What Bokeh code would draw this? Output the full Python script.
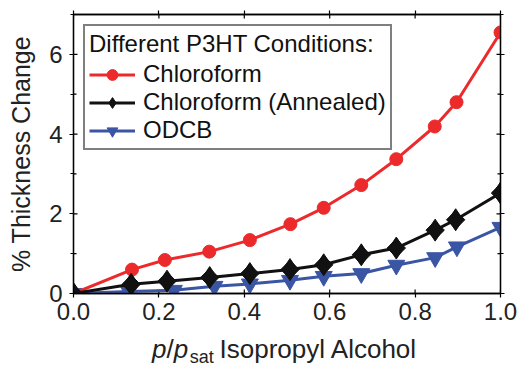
import math
from bokeh.plotting import figure
from bokeh.layouts import column
from bokeh.models import (LinearAxis, SingleIntervalTicker, PrintfTickFormatter, Range1d,
                          Legend, LegendItem, CustomJSTickFormatter)
from bokeh.core.properties import value
from bokeh.embed import file_html
from bokeh.resources import INLINE

# ---- data ----
x_chcl3 = [0.0, 0.137, 0.214, 0.318, 0.413, 0.508, 0.586, 0.674, 0.756, 0.846, 0.897, 1.0]
y_chcl3 = [0.0, 0.60, 0.84, 1.05, 1.34, 1.74, 2.15, 2.72, 3.37, 4.19, 4.80, 6.55]

x_ann = [0.0, 0.135, 0.219, 0.319, 0.413, 0.507, 0.586, 0.674, 0.756, 0.847, 0.895, 1.0]
y_ann = [0.0, 0.23, 0.31, 0.40, 0.50, 0.60, 0.72, 0.97, 1.14, 1.59, 1.85, 2.52]

x_odcb = [0.0, 0.130, 0.235, 0.330, 0.413, 0.507, 0.586, 0.674, 0.756, 0.847, 0.898, 1.0]
y_odcb = [0.0, 0.05, 0.08, 0.18, 0.24, 0.33, 0.43, 0.50, 0.71, 0.90, 1.17, 1.66]

series_names = ["Chloroform", "Chloroform (Annealed)", "ODCB"]
legend_title = "Different P3HT Conditions:"
y_label = "% Thickness Change"
x_label_parts = ["p", "/", "p", "sat", "Isopropyl Alcohol"]

x_ticks = [0.0, 0.2, 0.4, 0.6, 0.8, 1.0]
y_major_ticks = [0, 2, 4, 6]
y_minor_ticks = [1, 3, 5]
X_MIN, X_MAX = 0.0, 1.0
Y_MIN, Y_MAX = 0.0, 7.0

FONT = "Liberation Sans"
RED = "#ec2a2c"
BLACK = "#111111"
BLUE = "#3b55a5"
TXT = "#222222"

W = 518
LABEL_H = 32
MAIN_H = 365 - LABEL_H

p = figure(width=W, height=MAIN_H, output_backend="svg", toolbar_location=None,
           x_range=Range1d(X_MIN, X_MAX), y_range=Range1d(Y_MIN, Y_MAX),
           min_border_left=73, min_border_right=18, min_border_top=14, min_border_bottom=40,
           x_axis_location=None, y_axis_location=None, title=None)
p.background_fill_color = "white"
p.border_fill_color = "white"
p.outline_line_color = "black"
p.outline_line_width = 1.3
p.xgrid.visible = False
p.ygrid.visible = False

def style_axis(ax, labels=True):
    ax.axis_line_color = "black"
    ax.axis_line_width = 1.3
    ax.major_tick_in = 0
    ax.major_tick_out = 4
    ax.minor_tick_in = 0
    ax.minor_tick_out = 3
    ax.major_tick_line_width = 1.2
    ax.minor_tick_line_width = 1.2
    ax.major_label_text_font = FONT
    ax.major_label_text_color = TXT
    if labels:
        ax.major_label_text_font_size = "24px"
    else:
        ax.major_label_text_font_size = "0px"
        ax.major_label_standoff = 0

xb = LinearAxis(ticker=x_ticks, formatter=PrintfTickFormatter(format="%.1f"))
style_axis(xb)
xb.major_label_standoff = 5
p.add_layout(xb, "below")

xt = LinearAxis(ticker=x_ticks, formatter=CustomJSTickFormatter(code="return ''"))
style_axis(xt, labels=False)
p.add_layout(xt, "above")

yl = LinearAxis(ticker=SingleIntervalTicker(interval=2, num_minor_ticks=2),
                formatter=PrintfTickFormatter(format="%d"))
style_axis(yl)
yl.major_label_standoff = 7
yl.axis_label = y_label
yl.axis_label_text_font = FONT
yl.axis_label_text_font_size = "25px"
yl.axis_label_text_font_style = "normal"
yl.axis_label_text_color = TXT
yl.axis_label_standoff = 11
p.add_layout(yl, "left")

yr = LinearAxis(ticker=SingleIntervalTicker(interval=2, num_minor_ticks=2),
                formatter=CustomJSTickFormatter(code="return ''"))
style_axis(yr, labels=False)
p.add_layout(yr, "right")

# inward half of the ticks (glyphs are clipped to the frame, so only the inside half shows)
for yv in (Y_MIN, Y_MAX):
    p.scatter(x=x_ticks, y=[yv] * len(x_ticks), marker="dash", angle=math.pi / 2,
              size=8, line_color="black", line_width=1.2)
for xv in (X_MIN, X_MAX):
    p.scatter(x=[xv] * len(y_major_ticks), y=y_major_ticks, marker="dash",
              size=8, line_color="black", line_width=1.2)
    p.scatter(x=[xv] * len(y_minor_ticks), y=y_minor_ticks, marker="dash",
              size=6, line_color="black", line_width=1.2)

# ---- series ----
l3 = p.line(x_odcb, y_odcb, line_color=BLUE, line_width=3)
m3 = p.scatter(x_odcb, y_odcb, marker="inverted_triangle", size=17,
               fill_color=BLUE, line_color=BLUE)
l1 = p.line(x_chcl3, y_chcl3, line_color=RED, line_width=3)
m1 = p.scatter(x_chcl3, y_chcl3, marker="circle", size=13,
               fill_color=RED, line_color=RED)
l2 = p.line(x_ann, y_ann, line_color=BLACK, line_width=3)
m2d = p.scatter(x_ann, y_ann, marker="diamond", size=22,
                fill_color=BLACK, line_color=BLACK)
m2 = p.scatter(x_ann, y_ann, marker="square", size=13, angle=math.pi / 4,
               fill_color=BLACK, line_color=BLACK)

legend = Legend(items=[
    LegendItem(label=series_names[0], renderers=[l1, m1]),
    LegendItem(label=series_names[1], renderers=[l2, m2d]),
    LegendItem(label=series_names[2], renderers=[l3, m3]),
], location="top_left")
legend.title = legend_title
legend.title_text_font = FONT
legend.title_text_font_size = "24px"
legend.title_text_font_style = "normal"
legend.title_text_color = "#111111"
legend.title_standoff = 2
legend.label_text_font = FONT
legend.label_text_font_size = "24px"
legend.label_text_color = "#111111"
legend.label_standoff = 8
legend.glyph_width = 46
legend.glyph_height = 27
legend.label_height = 27
legend.spacing = 0
legend.padding = 4
legend.margin = 10
legend.border_line_color = "black"
legend.border_line_width = 2
legend.background_fill_color = "white"
legend.background_fill_alpha = 1.0
p.add_layout(legend, "center")

# ---- x axis title strip, sharing the x scale of the plot ----
lab = figure(width=W, height=LABEL_H, output_backend="svg", toolbar_location=None,
             x_range=p.x_range, y_range=Range1d(0, 1), title=None,
             min_border_left=73, min_border_right=18, min_border_top=0, min_border_bottom=0,
             x_axis_location=None, y_axis_location=None)
lab.outline_line_color = None
lab.xgrid.visible = False
lab.ygrid.visible = False
lab.background_fill_color = "white"
lab.border_fill_color = "white"

# x: left edge of each piece in the plot's x units; y_offset: pixel shift (subscript)
pos_x = [0.184, 0.218, 0.235, 0.272, 0.342]
offs = [-1, -1, -1, 7, -1]
styles = ["italic", "normal", "italic", "normal", "normal"]
sizes = ["26px", "26px", "26px", "18px", "26px"]
for tx, oy, t, st, sz in zip(pos_x, offs, x_label_parts, styles, sizes):
    lab.text(x=[tx], y=[0.5], text=[t], text_font=value(FONT), text_font_style=st,
             text_font_size=sz, text_color=TXT, text_align="left",
             text_baseline="middle", y_offset=oy)

layout = column(p, lab, spacing=0)
open("out.html", "w").write(file_html(layout, INLINE))
